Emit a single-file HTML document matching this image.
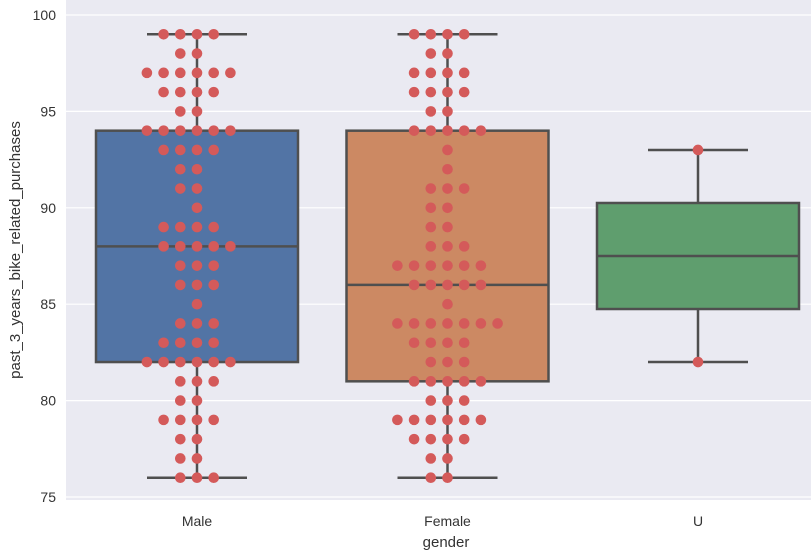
<!DOCTYPE html>
<html><head><meta charset="utf-8"><style>
body{margin:0;background:#fff;font-family:"Liberation Sans",sans-serif}
svg text{font-family:"Liberation Sans",sans-serif;fill:#333}
</style></head><body>
<svg id="c" width="811" height="552" xmlns="http://www.w3.org/2000/svg"></svg>
<script>
const categories=["Male","Female","U"];
const boxQ1=[82,81,84.75];
const boxMed=[88,86,87.5];
const boxQ3=[94,94,90.25];
const whiskLo=[76,76,82];
const whiskHi=[99,99,93];
const colors=["#5274a5","#cc8963","#5f9e6e"];
const swarmValues=[[99,98,97,96,95,94,93,92,91,90,89,88,87,86,85,84,83,82,81,80,79,78,77,76],
 [99,98,97,96,95,94,93,92,91,90,89,88,87,86,85,84,83,82,81,80,79,78,77,76],
 [93,82]];
const swarmCounts=[[4,2,6,4,2,6,4,2,2,1,4,5,3,3,1,3,4,6,3,2,4,2,2,3],
 [4,2,4,4,2,5,1,1,3,2,2,3,6,5,1,7,4,3,5,3,6,4,2,2],
 [1,1]];
const yTicks=[75,80,85,90,95,100];
const NS="http://www.w3.org/2000/svg";
const svg=document.getElementById('c');
const L=66,R=811,T=0,B=500;
const y=v=>15+(100-v)*19.28;
const xc=i=>197+i*250.5;
function el(t,a,p){const e=document.createElementNS(NS,t);for(const k in a)e.setAttribute(k,a[k]);(p||svg).appendChild(e);return e;}
const bg=el('rect',{x:L,y:T,width:R-L,height:B-T,fill:'#eaeaf2'});


yTicks.forEach(t=>{
 const g=el('line',{x1:L,x2:R,y1:y(t),y2:y(t),stroke:'#fff','stroke-width':1.2});
 
 
 const tx=el('text',{x:56,y:y(t)+5,'text-anchor':'end','font-size':14});
 tx.textContent=t;
 
 
});
categories.forEach((c,i)=>{
 const cx=xc(i),w=101,lc='#4f4f4f';
 const g=el('g',{});
 
 
 el('line',{x1:cx,x2:cx,y1:y(whiskHi[i]),y2:y(boxQ3[i]),stroke:lc,'stroke-width':2.5},g);
 el('line',{x1:cx,x2:cx,y1:y(boxQ1[i]),y2:y(whiskLo[i]),stroke:lc,'stroke-width':2.5},g);
 el('line',{x1:cx-50,x2:cx+50,y1:y(whiskHi[i]),y2:y(whiskHi[i]),stroke:lc,'stroke-width':2.5},g);
 el('line',{x1:cx-50,x2:cx+50,y1:y(whiskLo[i]),y2:y(whiskLo[i]),stroke:lc,'stroke-width':2.5},g);
 el('rect',{x:cx-w,y:y(boxQ3[i]),width:2*w,height:y(boxQ1[i])-y(boxQ3[i]),fill:colors[i],stroke:lc,'stroke-width':2.5},g);
 el('line',{x1:cx-w,x2:cx+w,y1:y(boxMed[i]),y2:y(boxMed[i]),stroke:lc,'stroke-width':2.5},g);
 const tx=el('text',{x:cx,y:526,'text-anchor':'middle','font-size':14});
 tx.textContent=c;
 
 
});
const order=[0,-1,1,-2,2,-3,3,-4,4];
swarmValues.forEach((vals,i)=>{
 vals.forEach((v,j)=>{
  const n=swarmCounts[i][j];
  for(let k=0;k<n;k++){
   const d=el('circle',{cx:xc(i)+order[k]*16.7,cy:y(v),r:5.3,fill:'#d45a5a'});
   
   
  }
 });
});
const xt=el('text',{x:446,y:547,'text-anchor':'middle','font-size':15});
xt.textContent='gender';


const yt=el('text',{x:0,y:0,'text-anchor':'middle','font-size':15,transform:'translate(20,250) rotate(-90)'});
yt.textContent='past_3_years_bike_related_purchases';


</script>
</body></html>
